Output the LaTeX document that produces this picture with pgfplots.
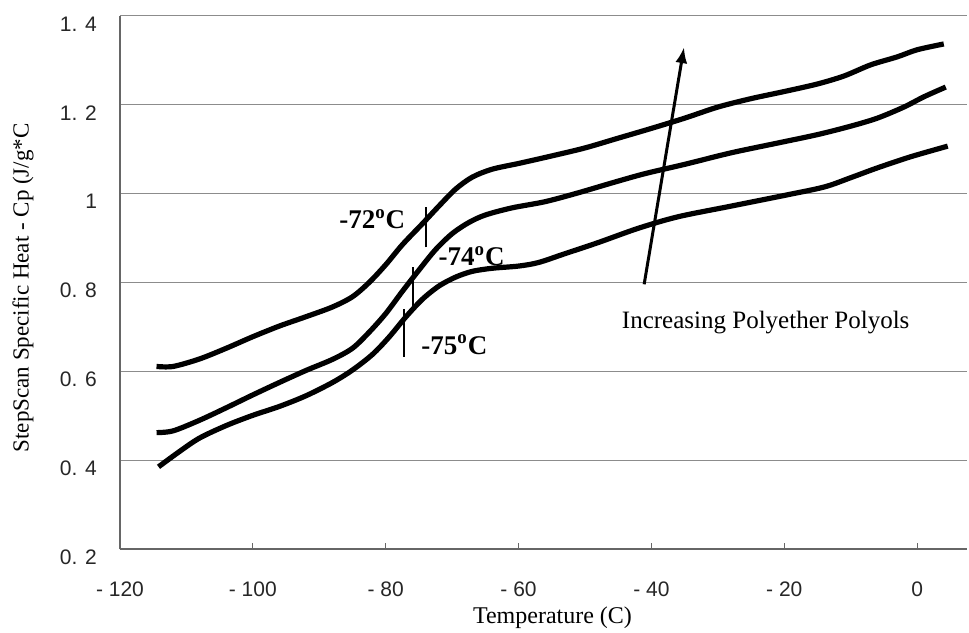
\documentclass[border=0pt]{standalone}
\usepackage{fontspec}
\setmainfont{Liberation Serif}
\setsansfont{Liberation Sans}
\usepackage{pgfplots}
\pgfplotsset{compat=1.18}
\usetikzlibrary{arrows.meta,calc}

\begin{document}
\begin{tikzpicture}
\begin{axis}[
    name=ax,
    scale only axis,
    width=423.5pt, height=266.5pt,
    xmin=-120, xmax=7.5,
    ymin=0.2, ymax=1.4,
    axis lines=left,
    axis line style={-, draw=black!60, line width=0.6pt},
    xtick={-120,-100,-80,-60,-40,-20,0},
    xticklabels={- 120,- 100,- 80,- 60,- 40,- 20,0},
    ytick={0.2,0.4,0.6,0.8,1,1.2,1.4},
    yticklabels={0. 2,0. 4,0. 6,0. 8,1,1. 2,1. 4},
    tick label style={font=\sffamily\fontsize{10.5}{12}\selectfont, text=black!85},
    xticklabel style={yshift=-13pt},
    yticklabel style={xshift=-6.5pt, yshift=-4pt},
    xtick align=inside,
    major tick length=3pt,
    ytick style={draw=none},
    xtick style={draw=black!60, line width=0.5pt},
    ymajorgrids=true,
    grid style={draw=black!45, line width=0.5pt},
    xlabel={Temperature (C)},
    ylabel={StepScan Specific Heat - Cp (J/g*C},
    xlabel style={font=\fontsize{12}{14}\selectfont, at={(axis description cs:0.5106,-0.1295)}, anchor=center},
    ylabel style={font=\fontsize{11.5}{14}\selectfont, at={(axis description cs:-0.1145,0.49)}, anchor=center, rotate=0},
    clip=false,
]
% top curve
\addplot[black, line width=2.6pt, smooth] coordinates {
(-114.5,0.611) (-112,0.611) (-108,0.628) (-104,0.652) (-100,0.678) (-96,0.702)
(-92,0.723) (-88,0.745) (-85,0.768) (-82.5,0.800) (-80,0.840) (-77.5,0.885)
(-74.5,0.932) (-72,0.972) (-69.5,1.010) (-67,1.037) (-64,1.055) (-60,1.068)
(-55,1.085) (-50,1.103) (-45,1.125) (-40,1.147) (-35,1.170) (-30,1.195)
(-25,1.214) (-20,1.230) (-15,1.247) (-11,1.265) (-7,1.290) (-3,1.308) (0,1.324) (4,1.337)
};
% middle curve
\addplot[black, line width=2.6pt, smooth] coordinates {
(-114.5,0.462) (-112,0.466) (-108,0.490) (-104,0.518) (-100,0.547) (-96,0.575)
(-92,0.602) (-88,0.627) (-85,0.652) (-82.5,0.688) (-80,0.730) (-77.5,0.780)
(-75,0.828) (-72.5,0.874) (-70,0.910) (-67.5,0.935) (-65,0.952) (-61,0.968)
(-56,0.982) (-51,1.002) (-46,1.024) (-41,1.045) (-35,1.066) (-28,1.092)
(-21,1.114) (-15,1.133) (-10,1.152) (-6,1.170) (-2,1.195) (1,1.218) (4.3,1.240)
};
% bottom curve
\addplot[black, line width=2.6pt, smooth] coordinates {
(-114.2,0.385) (-111,0.420) (-108,0.450) (-104,0.478) (-100,0.501) (-96,0.521)
(-92,0.545) (-88,0.575) (-85,0.603) (-82,0.638) (-79.5,0.677) (-77,0.722)
(-74.5,0.762) (-72,0.792) (-69.5,0.812) (-67,0.825) (-64,0.832) (-60,0.837)
(-57,0.845) (-53,0.865) (-48,0.890) (-42,0.922) (-36,0.948) (-28,0.972)
(-20,0.996) (-14,1.015) (-10,1.036) (-6,1.058) (-1,1.083) (4.6,1.107)
};
% transition markers
\addplot[black, line width=1pt] coordinates {(-73.9,0.879) (-73.9,0.971)};
\addplot[black, line width=1pt] coordinates {(-75.9,0.739) (-75.9,0.836)};
\addplot[black, line width=1pt] coordinates {(-77.2,0.633) (-77.2,0.740)};
\node[anchor=east, font=\bfseries\fontsize{13.5}{15}\selectfont] at (axis cs:-76.0,0.942) {-72\textsuperscript{o}C};
\node[anchor=west, font=\bfseries\fontsize{13.5}{15}\selectfont, inner sep=0pt] at (axis cs:-72.1,0.859) {-74\textsuperscript{o}C};
\node[anchor=west, font=\bfseries\fontsize{13.5}{15}\selectfont, inner sep=0pt] at (axis cs:-74.7,0.660) {-75\textsuperscript{o}C};
\draw[-{Latex[length=8pt,width=6pt]}, line width=1.5pt] (axis cs:-41.1,0.796) -- (axis cs:-35.1,1.330);
\node[font=\fontsize{12.5}{15}\selectfont] at (axis cs:-22.8,0.710) {Increasing Polyether Polyols};
\end{axis}
\pgfresetboundingbox
\path[use as bounding box] ($(ax.south west)+(-60pt,-41.5pt)$) rectangle ($(ax.north east)+(1pt,8pt)$);
\end{tikzpicture}
\end{document}
